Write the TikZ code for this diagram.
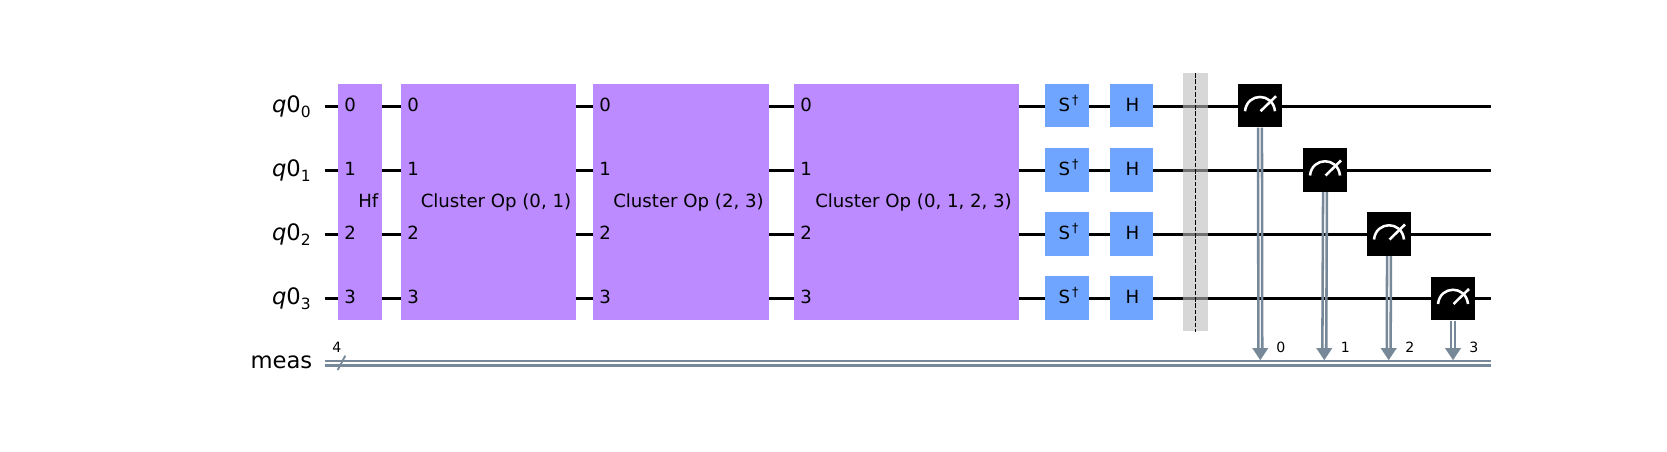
\documentclass[tikz,border=0pt]{standalone}
\usepackage{fontspec}
\setmainfont{DejaVu Sans}
\usetikzlibrary{arrows.meta}
\definecolor{gatepurple}{HTML}{BB8BFF}
\definecolor{gateblue}{HTML}{6FA4FF}
\definecolor{cbit}{HTML}{778899}
\definecolor{barriergray}{HTML}{BDBDBD}
\newcommand{\qlab}[1]{\textit{q}0\raisebox{-.2em}{\fontsize{11.6}{12}\selectfont #1}}
\newcommand{\sdg}{S\hspace{.12em}\raisebox{.42em}{\fontsize{9.5}{10}\selectfont †}}
\tikzset{
  x=0.75pt,y=-0.75pt,
  qwire/.style={black,line width=1.9pt},
  cwire/.style={cbit,line width=1.9pt},
  purplebox/.style={fill=gatepurple,inner sep=0pt,minimum height=177pt,anchor=north west},
  bluebox/.style={fill=gateblue,inner sep=0pt,minimum height=32.6pt,anchor=center},
  meterbox/.style={fill=black,inner sep=0pt,minimum width=33pt,minimum height=32.6pt,anchor=center},
  gatetext/.style={inner sep=0pt,anchor=base west,font=\fontsize{13.6}{16}\selectfont,text=black},
  bluetext/.style={inner sep=0pt,anchor=base,font=\fontsize{13.6}{16}\selectfont,text=black},
  smalltext/.style={inner sep=0pt,anchor=base west,font=\fontsize{10.6}{12}\selectfont,text=black},
  wirelabel/.style={inner sep=0pt,anchor=base east,font=\fontsize{17}{20}\selectfont,text=black},
  needle/.style={white,line width=1.9pt},
  headline/.style={cbit,line width=0.01pt,-{Triangle[width=12pt,length=9pt]},shorten >=0pt},
}
\newcommand{\meter}[3]{% name, cx, cy
  \node[meterbox] (#1) at (#2,#3) {};
  \draw[needle] ([shift={(-15,5.5)}]#1.center) .. controls ([shift={(-13,-13.5)}]#1.center) and ([shift={(13,-13.5)}]#1.center) .. ([shift={(15,5.5)}]#1.center);
  \draw[needle] ([shift={(0.5,5.5)}]#1.center) -- ([shift={(16,-9.5)}]#1.center);
}
\newcommand{\readout}[2]{% meter, target coordinate
  \coordinate (#1head) at ([yshift=9pt]#2);
  \draw[cwire,transform canvas={xshift=-1.45pt}] (#1.south) -- (#1head);
  \draw[cwire,transform canvas={xshift=1.45pt}] (#1.south) -- (#1head);
  \draw[headline] (#1head) -- (#2);
}
\begin{document}
\begin{tikzpicture}
\useasboundingbox (0,0) rectangle (1667,451);
\fill[white] (0,0) rectangle (1667,451);
% wire ends
\foreach \i/\y in {0/106.3,1/170.3,2/234.3,3/298.3}{
  \coordinate (ws\i) at (324.5,\y);
  \coordinate (we\i) at (1491,\y);
  \draw[qwire] (ws\i) -- (we\i);
}
\coordinate (cs1) at (324.5,361);
\coordinate (ce1) at (1491,361);
\coordinate (cs2) at (324.5,365.6);
\coordinate (ce2) at (1491,365.6);
\draw[cwire] (cs1) -- (ce1);
\draw[cwire] (cs2) -- (ce2);
% wire labels
\node[wirelabel] (lq0) at (311,112.5) {\qlab{0}};
\node[wirelabel] (lq1) at (311,176.5) {\qlab{1}};
\node[wirelabel] (lq2) at (311,240.5) {\qlab{2}};
\node[wirelabel] (lq3) at (311,304.5) {\qlab{3}};
\node[wirelabel] (lmeas) at (312.5,368.5) {meas};
% register slash
\coordinate (sla) at (337.7,370);
\coordinate (slb) at (345.3,355.7);
\draw[cbit,line width=1.4pt] (sla) -- (slb);
\node[smalltext] (lfour) at (332,352.7) {4};
% purple blocks
\node[purplebox,minimum width=33pt] (hf) at (338,84) {};
\node[purplebox,minimum width=131.25pt] (c01) at (401,84) {};
\node[purplebox,minimum width=132pt] (c23) at (593,84) {};
\node[purplebox,minimum width=168.4pt] (c0123) at (794,84) {};
\foreach \bx in {344,407,599,800}{
  \node[gatetext] at (\bx,111.3) {0};
  \node[gatetext] at (\bx,175.3) {1};
  \node[gatetext] at (\bx,239.3) {2};
  \node[gatetext] at (\bx,303.3) {3};
}
\node[gatetext] (thf) at (358,207.3) {Hf};
\node[gatetext] (tc01) at (420.5,207.3) {Cluster Op (0, 1)};
\node[gatetext] (tc23) at (613,207.3) {Cluster Op (2, 3)};
\node[gatetext] (tc0123) at (815,207.3) {Cluster Op (0, 1, 2, 3)};
% Sdg and H
\foreach \i/\y in {0/105.7,1/170,2/234,3/298}{
  \node[bluebox,minimum width=33pt] (s\i) at (1067,\y) {};
  \node[bluebox,minimum width=32.25pt] (h\i) at (1131.5,\y) {};
}
\foreach \i/\y in {0/111.8,1/175.8,2/239.8,3/303.8}{
  \node[bluetext] at (1068.5,\y) {\sdg};
  \node[bluetext] at (1132.5,\y) {H};
}
% barrier
\node[fill=barriergray,fill opacity=.6,inner sep=0pt,minimum width=18.75pt,minimum height=193.5pt,anchor=north west] (bar) at (1183,73) {};
\draw[black,line width=1pt,dash pattern=on 3.4pt off 1.4pt] (bar.north) -- (bar.south);
% measures
\coordinate (t0) at (1260.3,360);
\coordinate (t1) at (1324.3,360);
\coordinate (t2) at (1388.7,360);
\coordinate (t3) at (1453,360);
\meter{m0}{1260}{105.7}
\meter{m1}{1325}{170}
\meter{m2}{1389}{234}
\meter{m3}{1453}{298.5}
\readout{m0}{t0}
\readout{m1}{t1}
\readout{m2}{t2}
\readout{m3}{t3}
\node[smalltext] (r0) at (1276,352.7) {0};
\node[smalltext] (r1) at (1340.5,352.7) {1};
\node[smalltext] (r2) at (1405,352.7) {2};
\node[smalltext] (r3) at (1469.2,352.7) {3};
\end{tikzpicture}
\end{document}
